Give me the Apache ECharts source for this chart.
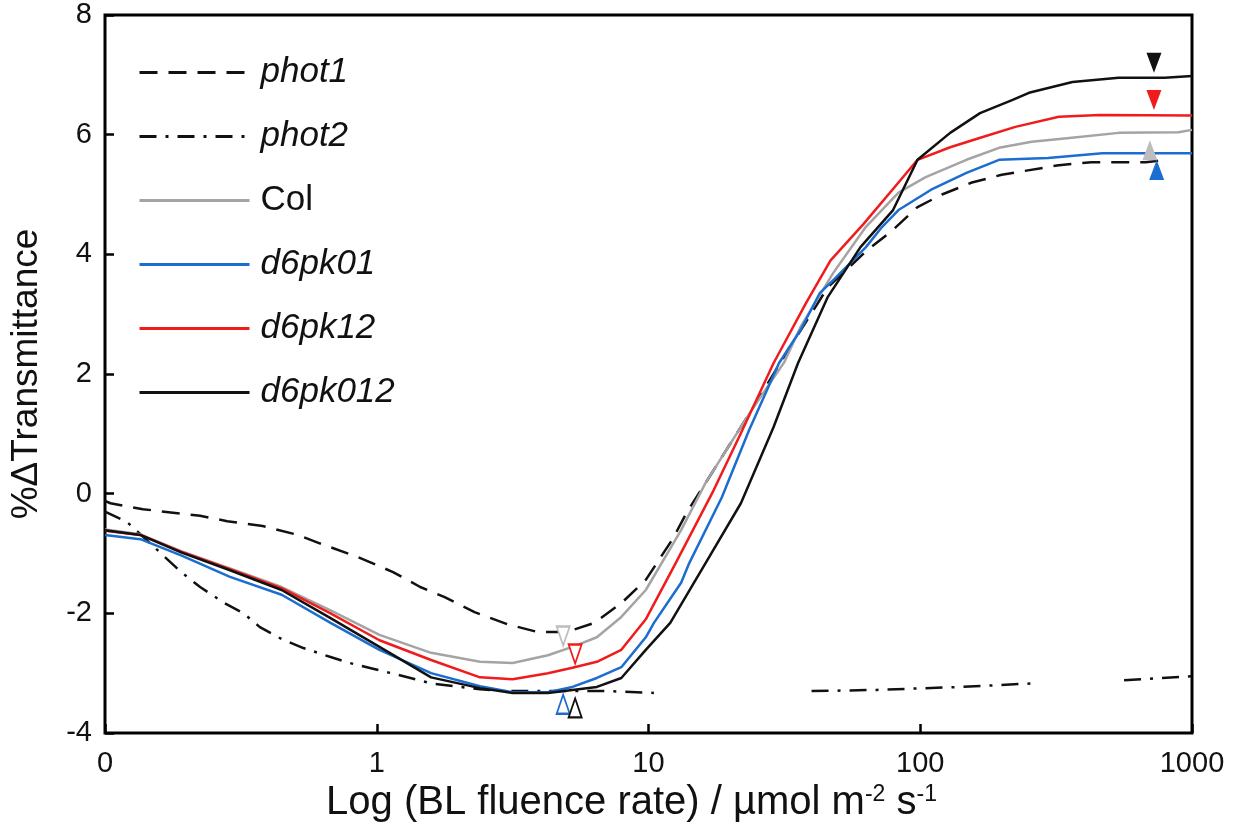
<!DOCTYPE html>
<html>
<head>
<meta charset="utf-8">
<script src="https://cdn.jsdelivr.net/npm/echarts@6/dist/echarts.min.js"></script>
<style>html,body{margin:0;padding:0;background:#fff;}#c{width:1239px;height:828px;}</style>
</head>
<body>
<div id="c"></div>
<script>
// x values are log-decade positions: 0 -> "0", 1 -> "1", 2 -> "10", 3 -> "100", 4 -> "1000"
const xTickLabels = ['0', '1', '10', '100', '1000'];
const yTicks = [-4, -2, 0, 2, 4, 6, 8];

const phot1 = [[0,-0.12],[0.02,-0.16],[0.14,-0.26],[0.35,-0.37],[0.45,-0.46],[0.58,-0.54],[0.71,-0.69],[0.79,-0.83],[0.93,-1.06],[1.06,-1.31],[1.16,-1.56],[1.25,-1.73],[1.36,-1.98],[1.48,-2.18],[1.59,-2.31],[1.7,-2.31],[1.8,-2.16],[1.9,-1.83],[1.99,-1.44],[2.09,-0.75],[2.14,-0.32],[2.21,0.18],[2.31,0.9],[2.38,1.4],[2.5,2.3],[2.66,3.45],[2.8,4.05],[2.9,4.41],[2.99,4.79],[3.08,5.0],[3.19,5.2],[3.3,5.33],[3.51,5.49],[3.63,5.54],[3.83,5.54],[3.9,5.58]];

const phot2a = [[0,-0.3],[0.08,-0.47],[0.14,-0.72],[0.28,-1.31],[0.35,-1.56],[0.44,-1.83],[0.51,-2.0],[0.57,-2.23],[0.65,-2.43],[0.73,-2.58],[0.83,-2.73],[0.9,-2.83],[0.99,-2.93],[1.08,-3.03],[1.2,-3.17],[1.38,-3.27],[1.5,-3.3],[1.7,-3.3],[1.85,-3.3],[2.02,-3.33]];
const phot2b = [[2.6,-3.3],[2.84,-3.28],[3.15,-3.23],[3.42,-3.17]];
const phot2c = [[3.75,-3.12],[4,-3.05]];

const col = [[0,-0.6],[0.13,-0.68],[0.28,-0.96],[0.46,-1.25],[0.65,-1.56],[0.83,-1.95],[1.01,-2.36],[1.2,-2.66],[1.38,-2.81],[1.5,-2.83],[1.63,-2.7],[1.72,-2.56],[1.81,-2.4],[1.9,-2.06],[1.99,-1.61],[2.12,-0.61],[2.21,0.18],[2.31,0.9],[2.38,1.4],[2.5,2.2],[2.56,2.79],[2.68,3.69],[2.8,4.46],[2.92,5.03],[3.02,5.29],[3.17,5.58],[3.29,5.78],[3.41,5.88],[3.54,5.94],[3.73,6.03],[3.95,6.04],[4,6.08]];

const d6pk01 = [[0,-0.69],[0.13,-0.76],[0.28,-1.03],[0.46,-1.39],[0.65,-1.69],[0.83,-2.16],[1.01,-2.61],[1.2,-3.0],[1.38,-3.22],[1.5,-3.32],[1.63,-3.32],[1.72,-3.23],[1.81,-3.08],[1.9,-2.9],[1.99,-2.4],[2.02,-2.16],[2.12,-1.49],[2.15,-1.16],[2.27,-0.06],[2.37,1.06],[2.48,2.18],[2.56,2.74],[2.63,3.35],[2.68,3.57],[2.8,4.12],[2.86,4.46],[2.92,4.74],[3.04,5.08],[3.17,5.36],[3.29,5.58],[3.47,5.61],[3.67,5.69],[4,5.69]];

const d6pk12 = [[0,-0.62],[0.13,-0.69],[0.28,-0.97],[0.46,-1.26],[0.65,-1.58],[0.83,-2.0],[1.01,-2.45],[1.2,-2.78],[1.38,-3.07],[1.5,-3.1],[1.63,-3.0],[1.72,-2.91],[1.81,-2.81],[1.9,-2.61],[1.99,-2.1],[2.1,-1.16],[2.24,0.06],[2.34,1.01],[2.46,2.18],[2.58,3.19],[2.67,3.9],[2.79,4.5],[2.92,5.2],[2.99,5.58],[3.11,5.79],[3.23,5.96],[3.35,6.13],[3.51,6.3],[3.66,6.33],[4,6.32]];

const d6pk012 = [[0,-0.61],[0.13,-0.69],[0.28,-0.98],[0.46,-1.28],[0.65,-1.61],[0.83,-2.08],[1.01,-2.56],[1.2,-3.07],[1.38,-3.25],[1.5,-3.33],[1.63,-3.33],[1.72,-3.28],[1.81,-3.23],[1.9,-3.08],[1.99,-2.61],[2.08,-2.16],[2.21,-1.16],[2.34,-0.16],[2.46,1.11],[2.55,2.18],[2.66,3.29],[2.78,4.12],[2.9,4.74],[2.99,5.58],[3.11,6.03],[3.22,6.36],[3.34,6.58],[3.4,6.7],[3.56,6.88],[3.73,6.95],[3.9,6.95],[4,6.98]];

// triangle markers
const markerPos = [[3.86,7.2],[3.86,6.58],[3.845,5.74],[3.87,5.41],[1.686,-2.38],[1.73,-2.68],[1.686,-3.52],[1.73,-3.58]];
const markerSeries = ['d6pk012','d6pk12','Col','d6pk01','Col','d6pk12','d6pk01','d6pk012'];
const markerDown = [true,true,false,false,true,true,false,false];
const markerFilled = [true,true,true,true,false,false,false,false];

const seriesNames = ['phot1','phot2','Col','d6pk01','d6pk12','d6pk012'];

const colors = {phot1:'#111111', phot2:'#111111', Col:'#a4a4a4', d6pk01:'#1c6dd0', d6pk12:'#f01c1c', d6pk012:'#111111'};
const markerColors = {Col:'#bdbdbd', d6pk01:'#1c6dd0', d6pk12:'#f01c1c', d6pk012:'#111111'};
const FONT = '"Liberation Sans", Arial, Helvetica, sans-serif';

function lineSeries(name, data, type) {
  return {
    name: name, type: 'line', data: data, symbol: 'none', showSymbol: false,
    smooth: false, connectNulls: false, z: 2,
    lineStyle: {color: colors[name], width: 2.5, type: type || 'solid', join: 'round'},
    itemStyle: {color: colors[name]},
    emphasis: {disabled: true}
  };
}

const series = [
  lineSeries('phot1', phot1, [18, 11]),
  lineSeries('phot2', phot2a, [17, 9, 3, 9]),
  lineSeries('phot2', phot2b, [17, 9, 3, 9]),
  lineSeries('phot2', phot2c, [17, 9, 3, 9]),
  lineSeries('Col', col),
  lineSeries('d6pk01', d6pk01),
  lineSeries('d6pk12', d6pk12),
  lineSeries('d6pk012', d6pk012)
];

markerPos.forEach(function (p, i) {
  const c = markerColors[markerSeries[i]];
  series.push({
    type: 'scatter', name: 'marker' + i, data: [p], z: 5,
    symbol: 'triangle', symbolSize: markerFilled[i] ? [15, 20] : [13, 19],
    symbolRotate: markerDown[i] ? 180 : 0,
    itemStyle: markerFilled[i] ? {color: c, opacity: 1} : {color: '#ffffff', borderColor: c, borderWidth: 2, opacity: 1},
    emphasis: {disabled: true}, silent: true
  });
});

const chart = echarts.init(document.getElementById('c'), null, {renderer: 'canvas'});
chart.setOption({
  animation: false,
  backgroundColor: '#ffffff',
  textStyle: {fontFamily: FONT},
  grid: {left: 104, right: 47, top: 15, bottom: 95, show: true, borderColor: '#000', borderWidth: 3, containLabel: false},
  legend: {
    data: seriesNames, orient: 'vertical', left: 138, top: 55, padding: 0,
    itemWidth: 110, itemHeight: 30, itemGap: 29,
    lineStyle: {width: 3},
    itemStyle: {opacity: 0},
    formatter: function (n) { return n === 'Col' ? '{n|' + n + '}' : '{i|' + n + '}'; },
    textStyle: {
      fontFamily: FONT, color: '#111', padding: [0, 0, 0, 6],
      rich: {
        i: {fontStyle: 'italic', fontSize: 35, fontFamily: FONT, color: '#111', lineHeight: 30},
        n: {fontSize: 35, fontFamily: FONT, color: '#111', lineHeight: 30}
      }
    },
    selectedMode: false
  },
  xAxis: {
    type: 'value', min: 0, max: 4, interval: 1,
    axisLine: {show: false, onZero: false},
    axisTick: {show: true, inside: true, length: 9, lineStyle: {color: '#000', width: 2.5}},
    splitLine: {show: false},
    axisLabel: {
      formatter: function (v) { return xTickLabels[Math.round(v)]; },
      fontSize: 29, color: '#111', margin: 16, fontFamily: FONT
    },
    name: 'Log (BL fluence rate) / µmol m{sup|-2} s{sup|-1}',
    nameLocation: 'middle', nameGap: 49,
    nameTextStyle: {
      fontSize: 40, color: '#111', fontFamily: FONT, lineHeight: 40, padding: [0, 34, 0, 0],
      rich: {sup: {fontSize: 23, verticalAlign: 'top', lineHeight: 40, fontFamily: FONT, color: '#111', padding: [0, 0, 17, 0]}}
    }
  },
  yAxis: {
    type: 'value', min: yTicks[0], max: yTicks[yTicks.length - 1], interval: 2,
    axisLine: {show: false, onZero: false},
    axisTick: {show: true, inside: true, length: 9, lineStyle: {color: '#000', width: 2.5}},
    splitLine: {show: false},
    axisLabel: {fontSize: 29, color: '#111', margin: 13, fontFamily: FONT},
    name: '%ΔTransmittance', nameLocation: 'middle', nameGap: 60,
    nameTextStyle: {fontSize: 37, color: '#111', fontFamily: FONT}
  },
  series: series
});
</script>
</body>
</html>
